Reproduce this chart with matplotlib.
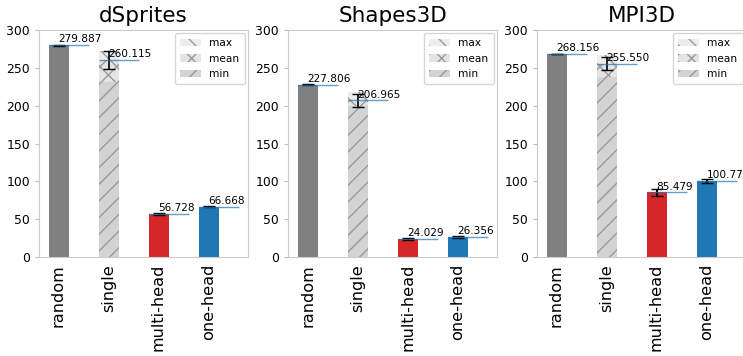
import numpy as np
import matplotlib
matplotlib.use("Agg")
import matplotlib.pyplot as plt

# data
datasets = ["dSprites", "Shapes3D", "MPI3D"]
methods = ["random", "single", "multi-head", "one-head"]

random_val = [279.887, 227.806, 268.156]
random_err = [0.6, 0.6, 0.5]

single_mean = [260.115, 206.965, 255.550]
single_err = [12.0, 9.0, 9.0]
single_max = [272.0, 218.0, 267.0]
single_min = [231.0, 199.0, 238.0]

multi_val = [56.728, 24.029, 85.479]
multi_err = [1.0, 1.0, 5.0]
one_val = [66.668, 26.356, 100.779]
one_err = [0.8, 0.8, 2.5]

W, H = 743, 356
fig = plt.figure(figsize=(W / 100, H / 100), dpi=100)
lefts = [39, 288, 537]
w = 0.4
x = np.arange(4)

for i, name in enumerate(datasets):
    ax = fig.add_axes([lefts[i] / W, (H - 257) / H, 209 / W, 227 / H])

    # single: overlapping max / mean / min bars
    ax.bar(x[1], single_max[i], w, color="#ededed", edgecolor="#999999", lw=0, hatch="\\\\", label="max")
    ax.bar(x[1], single_mean[i], w, color="#e4e4e4", edgecolor="#999999", lw=0, hatch="xx", label="mean")
    ax.bar(x[1], single_min[i], w, color="#d3d3d3", edgecolor="#999999", lw=0, hatch="//", label="min")
    ax.errorbar(x[1], single_mean[i], yerr=single_err[i], color="k", capsize=4, lw=1.2)

    ax.bar(x[0], random_val[i], w, color="gray", yerr=random_err[i], capsize=4)
    ax.bar(x[2], multi_val[i], w, color="tab:red", yerr=multi_err[i], capsize=4)
    ax.bar(x[3], one_val[i], w, color="tab:blue", yerr=one_err[i], capsize=4)

    vals = [random_val[i], single_mean[i], multi_val[i], one_val[i]]
    for xi, v in zip(x, vals):
        ax.hlines(v, xi - 0.2, xi + 0.6, color="tab:blue", alpha=0.7, lw=1)
        ax.text(xi, v + 1, "%.3f" % v, fontsize=7.6, ha="left", va="bottom")

    ax.set_ylim(0, 300)
    ax.set_yticks([0, 50, 100, 150, 200, 250, 300])
    ax.set_xticks(x)
    ax.set_xticklabels(methods, rotation=90, fontsize=11.6)
    ax.tick_params(axis="y", labelsize=8.9, length=3, color="#bbbbbb")
    ax.tick_params(axis="x", length=0, pad=5)
    for s in ax.spines.values():
        s.set_color("#cccccc")
    ax.set_title(name, fontsize=15.5)
    ax.legend(loc="upper right", fontsize=7.6, handlelength=2.0, borderpad=0.5,
              borderaxespad=0.3)

fig.savefig("out.png", dpi=100)
